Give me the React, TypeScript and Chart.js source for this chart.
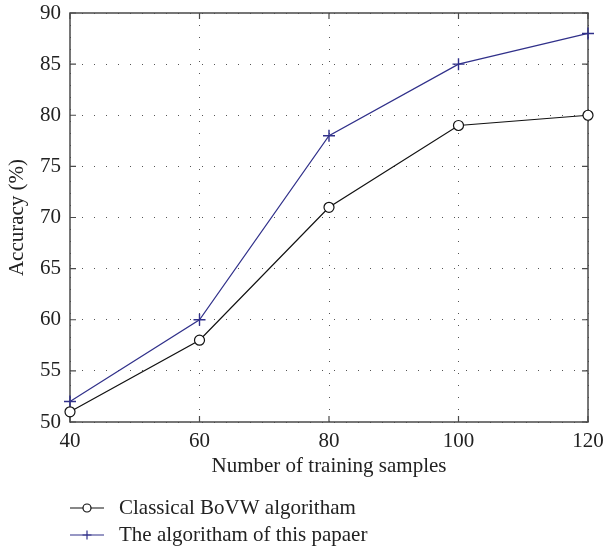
import React, { useEffect, useRef } from "react";
import { Chart, registerables } from "chart.js";

Chart.register(...registerables);

const xValues = [40, 60, 80, 100, 120];
const classicalValues = [51, 58, 71, 79, 80];
const proposedValues = [52, 60, 78, 85, 88];
const xTicks = [40, 60, 80, 100, 120];
const yTicks = [50, 55, 60, 65, 70, 75, 80, 85, 90];
const seriesNames = ["Classical BoVW algoritham", "The algoritham of this papaer"];

const FONT = '"Liberation Serif", "DejaVu Serif", serif';
const TEXT = "#222222";
const NAVY = "#30308a";
const BOX = "#4a4a4a";
const FS = 21;

export default function App() {
  const ref = useRef<HTMLCanvasElement | null>(null);

  useEffect(() => {
    if (!ref.current) return;

    const boxPlugin = {
      id: "boxTicks",
      beforeDatasetsDraw(chart: any) {
        const { ctx, chartArea: a } = chart;
        const xs = chart.scales.x;
        const ys = chart.scales.y;
        ctx.save();
        ctx.setLineDash([]);
        ctx.strokeStyle = BOX;
        ctx.lineWidth = 1.5;
        ctx.strokeRect(a.left, a.top, a.right - a.left, a.bottom - a.top);
        ctx.lineWidth = 1.2;
        const tl = 6;
        ctx.beginPath();
        xTicks.forEach((v) => {
          const px = xs.getPixelForValue(v);
          ctx.moveTo(px, a.bottom);
          ctx.lineTo(px, a.bottom - tl);
          ctx.moveTo(px, a.top);
          ctx.lineTo(px, a.top + tl);
        });
        yTicks.forEach((v) => {
          const py = ys.getPixelForValue(v);
          ctx.moveTo(a.left, py);
          ctx.lineTo(a.left + tl, py);
          ctx.moveTo(a.right, py);
          ctx.lineTo(a.right - tl, py);
        });
        ctx.stroke();
        ctx.restore();
      },
    };

    const legendPlugin = {
      id: "customLegend",
      afterDraw(chart: any) {
        const { ctx } = chart;
        const rows = [508, 535];
        ctx.save();
        chart.data.datasets.forEach((ds: any, i: number) => {
          const y = rows[i];
          const x0 = 70;
          const x1 = 104;
          const xm = (x0 + x1) / 2;
          ctx.setLineDash([]);
          ctx.strokeStyle = ds.borderColor;
          ctx.lineWidth = ds.borderWidth;
          ctx.beginPath();
          ctx.moveTo(x0, y);
          ctx.lineTo(x1, y);
          ctx.stroke();
          ctx.beginPath();
          if (ds.pointStyle === "circle") {
            ctx.fillStyle = "#ffffff";
            ctx.arc(xm, y, 4, 0, Math.PI * 2);
            ctx.fill();
            ctx.stroke();
          } else {
            const r = 4.5;
            ctx.moveTo(xm - r, y);
            ctx.lineTo(xm + r, y);
            ctx.moveTo(xm, y - r);
            ctx.lineTo(xm, y + r);
            ctx.stroke();
          }
          ctx.fillStyle = TEXT;
          ctx.font = `${FS}px ${FONT}`;
          ctx.textBaseline = "middle";
          ctx.textAlign = "left";
          ctx.fillText(seriesNames[i], 119, y);
        });
        ctx.restore();
      },
    };

    const chart = new Chart(ref.current, {
      type: "line",
      data: {
        datasets: [
          {
            label: seriesNames[0],
            data: xValues.map((x, i) => ({ x, y: classicalValues[i] })),
            borderColor: "#111111",
            borderWidth: 1.2,
            pointStyle: "circle",
            pointRadius: 5,
            pointHoverRadius: 5,
            pointBackgroundColor: "#ffffff",
            pointBorderColor: "#111111",
            pointBorderWidth: 1.2,
            tension: 0,
            clip: false,
          } as any,
          {
            label: seriesNames[1],
            data: xValues.map((x, i) => ({ x, y: proposedValues[i] })),
            borderColor: NAVY,
            borderWidth: 1.2,
            pointStyle: "cross",
            pointRadius: 6,
            pointHoverRadius: 6,
            pointBorderColor: NAVY,
            pointBorderWidth: 1.4,
            tension: 0,
            clip: false,
          } as any,
        ],
      },
      options: {
        responsive: false,
        animation: false,
        events: [],
        layout: { padding: { left: 0, top: 13, right: 17, bottom: 70 } },
        plugins: {
          legend: { display: false },
          tooltip: { enabled: false },
        },
        scales: {
          x: {
            type: "linear",
            min: 40,
            max: 120,
            afterFit: (s: any) => {
              s.height = 58;
              s.paddingLeft = 0;
              s.paddingRight = 0;
            },
            afterBuildTicks: (s: any) => {
              s.ticks = xTicks.map((v) => ({ value: v }));
            },
            ticks: {
              color: TEXT,
              font: { family: FONT, size: FS },
              padding: 7,
              maxRotation: 0,
            },
            grid: {
              color: "#555555",
              lineWidth: 1,
              drawTicks: false,
            },
            border: { display: false, dash: [1, 11] },
            title: {
              display: true,
              text: "Number of training samples",
              color: TEXT,
              font: { family: FONT, size: FS },
              padding: { top: 0, bottom: 1 },
            },
          },
          y: {
            type: "linear",
            min: 50,
            max: 90,
            afterFit: (s: any) => {
              s.width = 70;
              s.paddingTop = 0;
              s.paddingBottom = 0;
            },
            afterBuildTicks: (s: any) => {
              s.ticks = yTicks.map((v) => ({ value: v }));
            },
            ticks: {
              color: TEXT,
              font: { family: FONT, size: FS },
              padding: 9,
            },
            grid: {
              color: "#555555",
              lineWidth: 1,
              drawTicks: false,
            },
            border: { display: false, dash: [1, 11] },
            title: {
              display: true,
              text: "Accuracy (%)",
              color: TEXT,
              font: { family: FONT, size: FS },
              padding: { top: 5, bottom: 0 },
            },
          },
        },
      } as any,
      plugins: [boxPlugin, legendPlugin],
    });

    return () => chart.destroy();
  }, []);

  return (
    <div style={{ position: "fixed", left: 0, top: 0, width: 605, height: 550, background: "#ffffff" }}>
      <canvas ref={ref} width={605} height={550} style={{ display: "block" }} />
    </div>
  );
}
